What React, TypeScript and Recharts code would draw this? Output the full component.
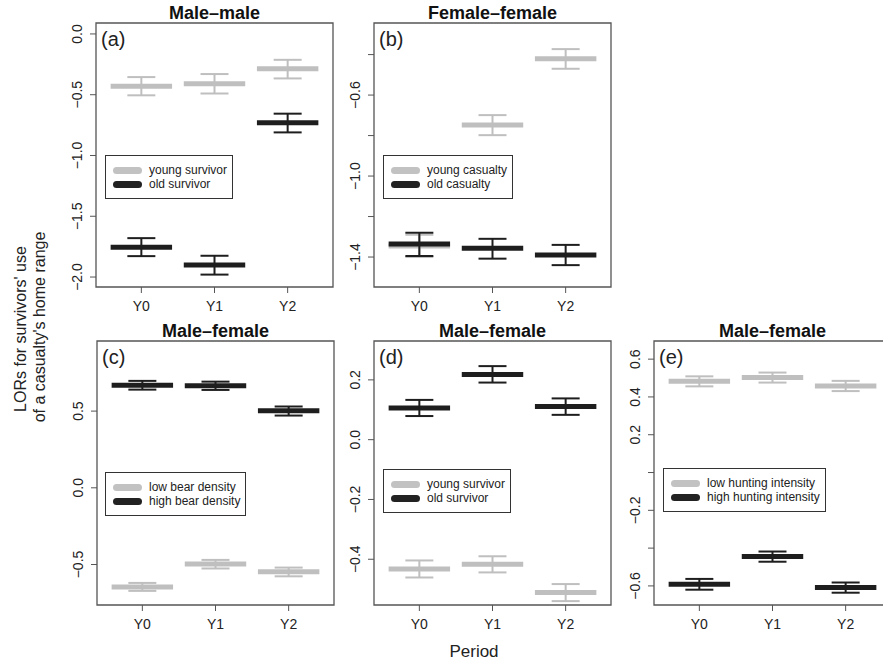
import React from "react";
import { ScatterChart, Scatter, ErrorBar, XAxis, YAxis, ReferenceArea, Legend } from "recharts";

const periods = ["Y0", "Y1", "Y2"];
const periodX = [1, 2, 3];

// each entry: [estimate, lower, upper]
const mmYoung = [[-0.43, -0.505, -0.355], [-0.41, -0.49, -0.33], [-0.287, -0.366, -0.213]];
const mmOld = [[-1.754, -1.828, -1.68], [-1.9, -1.98, -1.825], [-0.73, -0.81, -0.656]];
const ffYoung = [[-1.345, -1.4, -1.29], [-0.748, -0.798, -0.699], [-0.421, -0.47, -0.373]];
const ffOld = [[-1.336, -1.395, -1.28], [-1.357, -1.408, -1.31], [-1.39, -1.44, -1.34]];
const densLow = [[-0.646, -0.672, -0.62], [-0.497, -0.526, -0.47], [-0.548, -0.577, -0.52]];
const densHigh = [[0.668, 0.64, 0.697], [0.665, 0.638, 0.692], [0.502, 0.471, 0.53]];
const mfYoung = [[-0.433, -0.461, -0.404], [-0.417, -0.444, -0.39], [-0.511, -0.54, -0.483]];
const mfOld = [[0.106, 0.079, 0.133], [0.218, 0.191, 0.246], [0.111, 0.083, 0.138]];
const huntLow = [[0.483, 0.456, 0.509], [0.503, 0.476, 0.529], [0.458, 0.431, 0.485]];
const huntHigh = [[-0.591, -0.62, -0.563], [-0.445, -0.472, -0.418], [-0.609, -0.636, -0.582]];

const ticksA = [0, -0.5, -1, -1.5, -2];
const ticksB = [-0.4, -0.6, -0.8, -1, -1.2, -1.4];
const labelsB = [-0.6, -1, -1.4];
const ticksC = [0.5, 0, -0.5];
const ticksD = [0.2, 0, -0.2, -0.4];
const ticksE = [0.6, 0.4, 0.2, 0, -0.2, -0.4, -0.6];
const labelsE = [0.6, 0.4, 0.2, -0.2, -0.6];

const GRAY = "#bfbfbf";
const BLACK = "#1e1e1e";
const AXIS = "#555";
const FONT = "'Liberation Sans', Arial, Helvetica, sans-serif";

const W = 237;
const H = 264;
const PAD_L = 45;
const PAD_T = 30;
const PAD_R = 10;
const PAD_B = 35;
const xDomain = [0.38, 3.62];
const HALF = 0.42; // half length of the estimate bar, in period units

const fmt = (v: number) => v.toFixed(1).replace("-", "\u2212");

const toRows = (vals: number[][]) =>
  vals.map((v, i) => ({
    x: periodX[i],
    y: v[0],
    xerr: HALF,
    yerr: [v[0] - v[1], v[2] - v[0]],
  }));

const YTick = (props: any) => {
  const { y, payload, labels } = props;
  if (!labels.includes(payload.value)) return <g />;
  const cx = PAD_L - 19;
  return (
    <text
      x={cx}
      y={y}
      transform={`rotate(-90 ${cx} ${y})`}
      textAnchor="middle"
      dominantBaseline="central"
      fontSize={14}
      fill="#222"
    >
      {fmt(payload.value)}
    </text>
  );
};

const LegendBox = ({ series }: any) => (
  <div
    style={{
      border: "1px solid #333",
      background: "#fff",
      padding: "7px 5px 7px 7px",
      fontSize: 12,
      color: "#222",
      fontFamily: FONT,
      whiteSpace: "nowrap",
    }}
  >
    {series.map((s: any) => (
      <div key={s.name} style={{ display: "flex", alignItems: "center", height: 14 }}>
        <span
          style={{
            display: "inline-block",
            width: 29,
            height: 7,
            borderRadius: 3.5,
            background: s.legend,
            marginRight: 7,
          }}
        />
        <span>{s.name}</span>
      </div>
    ))}
  </div>
);

function Panel({ left, top, title, tag, domain, ticks, labels, series, legendLeft, legendTop }: any) {
  const cw = W + PAD_L + PAD_R;
  const ch = H + PAD_T + PAD_B;
  return (
    <div style={{ position: "absolute", left: left - PAD_L, top: top - PAD_T, width: cw, height: ch }}>
      <ScatterChart width={cw} height={ch} margin={{ top: PAD_T, right: PAD_R, bottom: 0, left: 0 }}>
        <XAxis
          dataKey="x"
          type="number"
          domain={xDomain}
          ticks={periodX}
          interval={0}
          allowDataOverflow
          height={PAD_B}
          tickSize={6}
          tickMargin={8}
          axisLine={false}
          tickLine={{ stroke: AXIS }}
          tick={{ fill: "#222", fontSize: 14 }}
          tickFormatter={(v: number) => periods[v - 1]}
        />
        <YAxis
          dataKey="y"
          type="number"
          domain={domain}
          ticks={ticks}
          interval={0}
          allowDataOverflow
          width={PAD_L}
          tickSize={6}
          axisLine={false}
          tickLine={{ stroke: AXIS }}
          tick={<YTick labels={labels} />}
        />
        <ReferenceArea
          x1={xDomain[0]}
          x2={xDomain[1]}
          y1={domain[0]}
          y2={domain[1]}
          fill="#fff"
          fillOpacity={0}
          stroke={AXIS}
          strokeWidth={1.3}
          strokeOpacity={1}
        />
        {series.map((s: any) => (
          <Scatter
            key={s.name}
            name={s.name}
            data={toRows(s.values)}
            fill={s.color}
            shape={() => <g />}
            isAnimationActive={false}
          >
            <ErrorBar dataKey="xerr" direction="x" width={0} stroke={s.color} strokeWidth={5} isAnimationActive={false} />
            <ErrorBar dataKey="yerr" direction="y" width={14} stroke={s.color} strokeWidth={2} isAnimationActive={false} />
          </Scatter>
        ))}
        <Legend
          verticalAlign="middle"
          align="center"
          wrapperStyle={{ left: PAD_L + legendLeft, top: PAD_T + legendTop, width: "auto", height: "auto" }}
          content={() => <LegendBox series={series} />}
        />
      </ScatterChart>
      <div
        style={{
          position: "absolute",
          left: PAD_L,
          width: W,
          top: PAD_T - 20,
          textAlign: "center",
          fontWeight: "bold",
          fontSize: 18,
          lineHeight: "20px",
          color: "#111",
        }}
      >
        {title}
      </div>
      <div style={{ position: "absolute", left: PAD_L + 5, top: PAD_T + 6, fontSize: 20, lineHeight: "20px", color: "#222" }}>
        {tag}
      </div>
    </div>
  );
}

export default function App() {
  return (
    <div
      style={{
        position: "fixed",
        left: 0,
        top: 0,
        width: 883,
        height: 662,
        overflow: "hidden",
        background: "#fff",
        fontFamily: FONT,
      }}
    >
      <Panel
        left={96}
        top={23}
        title="Male–male"
        tag="(a)"
        domain={[-2.082, 0.09]}
        ticks={ticksA}
        labels={ticksA}
        legendLeft={9}
        legendTop={132}
        series={[
          { name: "young survivor", color: GRAY, legend: "#c2c2c2", values: mmYoung },
          { name: "old survivor", color: BLACK, legend: "#222", values: mmOld },
        ]}
      />
      <Panel
        left={374}
        top={23}
        title="Female–female"
        tag="(b)"
        domain={[-1.548, -0.244]}
        ticks={ticksB}
        labels={labelsB}
        legendLeft={9}
        legendTop={132}
        series={[
          { name: "young casualty", color: GRAY, legend: "#c2c2c2", values: ffYoung },
          { name: "old casualty", color: BLACK, legend: "#222", values: ffOld },
        ]}
      />
      <Panel
        left={97}
        top={341}
        title="Male–female"
        tag="(c)"
        domain={[-0.764, 0.957]}
        ticks={ticksC}
        labels={ticksC}
        legendLeft={8}
        legendTop={131}
        series={[
          { name: "low bear density", color: GRAY, legend: "#c2c2c2", values: densLow },
          { name: "high bear density", color: BLACK, legend: "#222", values: densHigh },
        ]}
      />
      <Panel
        left={374}
        top={341}
        title="Male–female"
        tag="(d)"
        domain={[-0.553, 0.33]}
        ticks={ticksD}
        labels={ticksD}
        legendLeft={9}
        legendTop={128}
        series={[
          { name: "young survivor", color: GRAY, legend: "#c2c2c2", values: mfYoung },
          { name: "old survivor", color: BLACK, legend: "#222", values: mfOld },
        ]}
      />
      <Panel
        left={654}
        top={341}
        title="Male–female"
        tag="(e)"
        domain={[-0.701, 0.696]}
        ticks={ticksE}
        labels={labelsE}
        legendLeft={9}
        legendTop={127}
        series={[
          { name: "low hunting intensity", color: GRAY, legend: "#c2c2c2", values: huntLow },
          { name: "high hunting intensity", color: BLACK, legend: "#222", values: huntHigh },
        ]}
      />
      <svg style={{ position: "absolute", left: 0, top: 0 }} width={60} height={662}>
        <text
          transform="translate(20,329) rotate(-90)"
          textAnchor="middle"
          dominantBaseline="central"
          fontSize={16}
          fill="#222"
        >
          LORs for survivors' use
        </text>
        <text
          transform="translate(39,327) rotate(-90)"
          textAnchor="middle"
          dominantBaseline="central"
          fontSize={16}
          fill="#222"
        >
          of a casualty's home range
        </text>
      </svg>
      <div
        style={{
          position: "absolute",
          left: 374,
          width: 200,
          top: 642,
          textAlign: "center",
          fontSize: 17,
          lineHeight: "20px",
          color: "#222",
        }}
      >
        Period
      </div>
    </div>
  );
}
